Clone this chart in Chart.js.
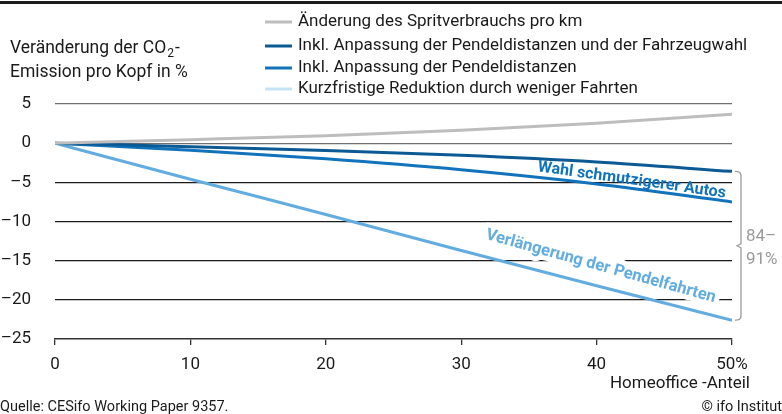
<!DOCTYPE html>
<html>
<head>
<meta charset="utf-8">
<script src="https://cdn.jsdelivr.net/npm/chart.js@4/dist/chart.umd.min.js"></script>
<style>
html,body{margin:0;padding:0;background:#fff;}
#wrap{width:782px;height:414px;position:relative;}
</style>
</head>
<body>
<div id="wrap"><canvas id="c" width="782" height="414"></canvas></div>
<script>
// ---- data ----
const homeoffice = [0, 10, 20, 30, 40, 50];
const spritverbrauch = [0, 0.45, 0.95, 1.65, 2.55, 3.7];
const fahrzeugwahl = [0, -0.45, -0.95, -1.55, -2.4, -3.6];
const pendeldistanzen = [0, -0.9, -2.0, -3.4, -5.2, -7.5];
const kurzfristig = [0, -4.6, -9.1, -13.7, -18.2, -22.6];
const seriesLabels = [
  'Änderung des Spritverbrauchs pro km',
  'Inkl. Anpassung der Pendeldistanzen und der Fahrzeugwahl',
  'Inkl. Anpassung der Pendeldistanzen',
  'Kurzfristige Reduktion durch weniger Fahrten'
];
const yTicks = [5, 0, -5, -10, -15, -20, -25];
const xTicks = [0, 10, 20, 30, 40, 50];
const yTitle = ['Veränderung der CO', '2', '-', 'Emission pro Kopf in %'];
const xTitle = 'Homeoffice -Anteil';
const sourceText = 'Quelle: CESifo Working Paper 9357.';
const copyrightText = '© ifo Institut';
const label1 = 'Wahl schmutzigerer Autos';
const label2 = 'Verlängerung der Pendelfahrten';
const bracketText = ['84–', '91%'];

// ---- styles ----
const FONT = 'Roboto, "Noto Sans", sans-serif';
const colors = ['#bdbdbd', '#0b5a94', '#1173bb', '#62acdf'];
const legendColors = ['#bdbdbd', '#0b5a94', '#1173bb', '#c6e3f6'];
const seriesData = [spritverbrauch, fahrzeugwahl, pendeldistanzen, kurzfristig];

const datasets = seriesData.map((arr, i) => ({
  label: seriesLabels[i],
  data: homeoffice.map((x, j) => ({x: x, y: arr[j]})),
  borderColor: colors[i],
  backgroundColor: colors[i],
  borderWidth: 3,
  pointRadius: 0,
  cubicInterpolationMode: 'monotone',
  fill: false
}));

function fmt(v) { return v < 0 ? '–' + Math.abs(v) : String(v); }

function label2Transform(ctx, chart) {
  const xs = chart.scales.x, ys = chart.scales.y;
  ctx.translate(xs.getPixelForValue(40.3), ys.getPixelForValue(-15.75));
  ctx.rotate(15.5 * Math.PI / 180);
  ctx.font = 'bold 16.5px ' + FONT;
  ctx.textAlign = 'center';
  ctx.textBaseline = 'middle';
}

const overlay = {
  id: 'overlay',
  beforeDraw(chart) {
    const ctx = chart.ctx;
    ctx.save();
    ctx.fillStyle = '#fff';
    ctx.fillRect(0, 0, chart.width, chart.height);
    ctx.fillStyle = '#1a1a1a';
    ctx.fillRect(0, 1, chart.width, 3);
    ctx.restore();
  },
  beforeDatasetsDraw(chart) {
    // white halo behind the rotated label, hiding grid lines (lines stay on top)
    const ctx = chart.ctx;
    ctx.save();
    label2Transform(ctx, chart);
    ctx.strokeStyle = '#fff';
    ctx.lineWidth = 10;
    ctx.lineJoin = 'round';
    ctx.strokeText(label2, 0, 0);
    ctx.restore();
  },
  afterDraw(chart) {
    const ctx = chart.ctx;
    const xs = chart.scales.x, ys = chart.scales.y;
    ctx.save();
    // legend
    ctx.font = '17px ' + FONT;
    ctx.textBaseline = 'middle';
    ctx.textAlign = 'left';
    const rows = [22, 46, 68, 89];
    seriesLabels.forEach((lab, i) => {
      ctx.strokeStyle = legendColors[i];
      ctx.lineWidth = 3;
      ctx.beginPath();
      ctx.moveTo(265, rows[i]);
      ctx.lineTo(292, rows[i]);
      ctx.stroke();
      ctx.fillStyle = '#1a1a1a';
      ctx.fillText(lab, 298, rows[i]);
    });
    // y title
    ctx.fillStyle = '#1a1a1a';
    ctx.font = '17.5px ' + FONT;
    let tx = 10;
    ctx.fillText(yTitle[0], tx, 49);
    tx += ctx.measureText(yTitle[0]).width + 1;
    ctx.font = '12px ' + FONT;
    ctx.fillText(yTitle[1], tx, 54);
    tx += ctx.measureText(yTitle[1]).width + 1;
    ctx.font = '17.5px ' + FONT;
    ctx.fillText(yTitle[2], tx, 49);
    ctx.fillText(yTitle[3], 10, 73);
    // x title
    ctx.font = '17px ' + FONT;
    ctx.textAlign = 'right';
    ctx.fillText(xTitle, 750, 384);
    // footer
    ctx.font = '14.5px ' + FONT;
    ctx.textAlign = 'left';
    ctx.fillText(sourceText, 0, 407);
    ctx.textAlign = 'right';
    ctx.fillText(copyrightText, 782, 407);
    // rotated annotations
    ctx.textAlign = 'center';
    ctx.font = 'bold 16px ' + FONT;
    ctx.fillStyle = colors[2];
    ctx.save();
    ctx.translate(xs.getPixelForValue(42.6), ys.getPixelForValue(-4.75));
    ctx.rotate(8 * Math.PI / 180);
    ctx.fillText(label1, 0, 0);
    ctx.restore();
    ctx.save();
    label2Transform(ctx, chart);
    ctx.fillStyle = colors[3];
    ctx.fillText(label2, 0, 0);
    ctx.restore();
    // bracket
    const bx = xs.getPixelForValue(50) + 9;
    const top = ys.getPixelForValue(fahrzeugwahl[fahrzeugwahl.length - 1]);
    const bot = ys.getPixelForValue(kurzfristig[kurzfristig.length - 1]);
    const mid = (top + bot) / 2;
    ctx.strokeStyle = '#9a9a9a';
    ctx.lineWidth = 1.3;
    ctx.beginPath();
    ctx.moveTo(bx - 6, top);
    ctx.quadraticCurveTo(bx, top, bx, top + 4);
    ctx.lineTo(bx, mid - 2);
    ctx.lineTo(bx - 4, mid);
    ctx.lineTo(bx, mid + 2);
    ctx.lineTo(bx, bot - 4);
    ctx.quadraticCurveTo(bx, bot, bx - 6, bot);
    ctx.stroke();
    ctx.fillStyle = '#9a9a9a';
    ctx.font = '17px ' + FONT;
    ctx.textAlign = 'left';
    ctx.fillText(bracketText[0], bx + 5, mid - 9);
    ctx.fillText(bracketText[1], bx + 5, mid + 14);
    ctx.restore();
  }
};

new Chart(document.getElementById('c'), {
  type: 'line',
  data: {datasets: datasets},
  options: {
    responsive: false,
    animation: false,
    devicePixelRatio: 1,
    layout: {padding: {top: 104, right: 50, left: 0, bottom: 0}},
    plugins: {legend: {display: false}, tooltip: {enabled: false}},
    scales: {
      x: {
        type: 'linear',
        min: 0, max: 50,
        afterFit(s) { s.height = 75; },
        afterBuildTicks(s) { s.ticks = xTicks.map(v => ({value: v})); },
        ticks: {
          callback: v => v === 50 ? '50%' : String(v),
          font: {family: FONT, size: 17},
          color: '#1a1a1a',
          padding: 10,
          maxRotation: 0
        },
        grid: {drawOnChartArea: false, drawTicks: true, tickLength: 6, color: '#333', lineWidth: 1.3},
        border: {display: true, color: '#333', width: 1.5}
      },
      y: {
        min: -25, max: 5,
        afterFit(s) { s.width = 55; },
        afterBuildTicks(s) { s.ticks = yTicks.map(v => ({value: v})); },
        ticks: {
          callback: v => fmt(v),
          font: {family: FONT, size: 17},
          color: '#1a1a1a',
          padding: 24
        },
        grid: {
          drawTicks: false,
          lineWidth: 1.3,
          color: c => (c.tick.value === 5 || c.tick.value === 0) ? '#707070' : (c.tick.value === -25 ? 'rgba(0,0,0,0)' : '#1a1a1a')
        },
        border: {display: false}
      }
    }
  },
  plugins: [overlay]
});
</script>
</body>
</html>
